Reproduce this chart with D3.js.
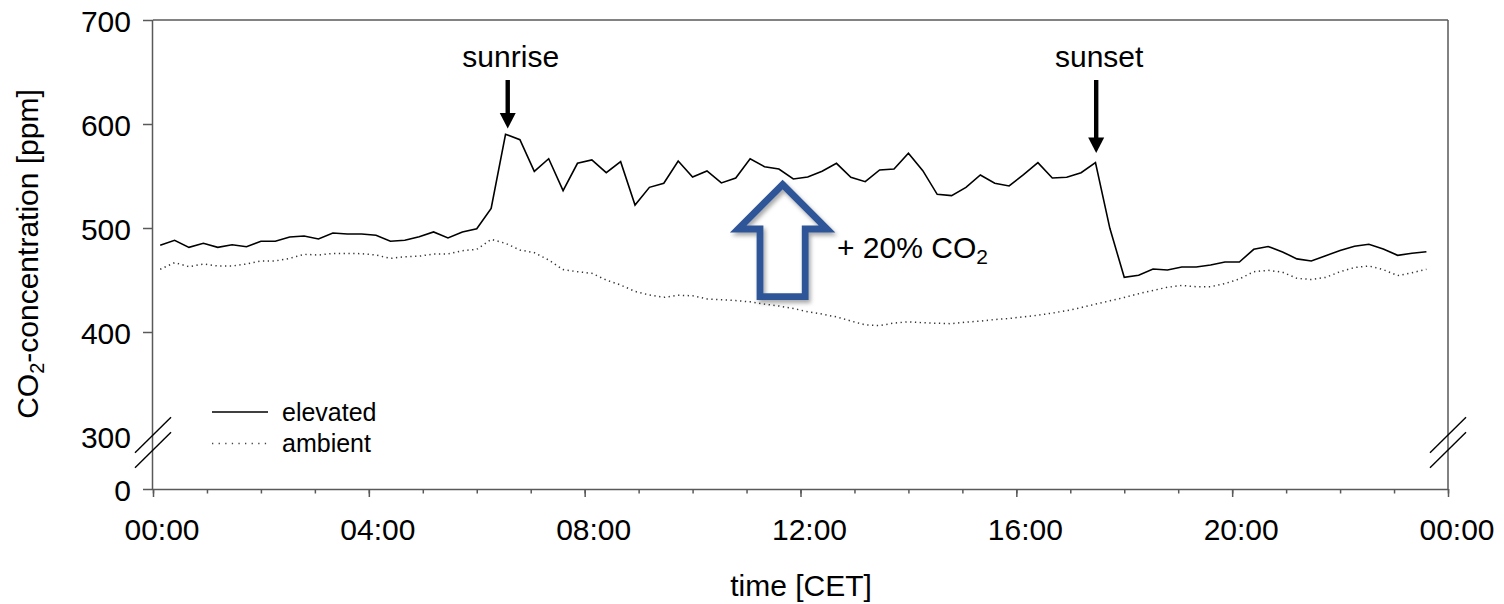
<!DOCTYPE html>
<html><head><meta charset="utf-8">
<script src="https://cdn.jsdelivr.net/npm/d3@7"></script>
<style>
html,body{margin:0;padding:0;background:#fff;}
svg{display:block;font-family:"Liberation Sans",Arial,sans-serif;}
</style></head>
<body><svg id="chart" width="1504" height="604"></svg>
<script>
// ---- data ----
const sampleStartMin = 8;     // first sample (minutes after midnight)
const sampleStepMin = 16;     // sampling interval (minutes)
const elevated = [483.4,488.2,481.4,485.3,481.4,483.9,482.0,487.2,487.2,491.3,
492.3,489.4,495.2,494.2,494.2,493.0,487.2,488.2,491.6,496.2,
490.4,496.2,499.3,518.9,590.1,584.9,554.5,566.6,535.9,562.2,
565.4,553.2,563.8,522.1,539.1,543.0,564.4,549.0,554.8,543.3,
548.1,566.6,558.9,556.7,547.1,549.0,554.5,562.2,548.8,544.5,
555.8,556.7,571.8,555.1,532.4,531.1,539.1,551.0,543.0,540.4,
551.3,562.8,548.1,548.8,553.2,562.8,499.7,452.6,454.5,460.6,
459.6,462.5,462.5,464.4,467.3,467.3,479.5,482.2,477.0,470.3,
468.3,473.4,478.4,482.4,484.3,479.8,473.7,475.7,477.2];
const ambient = [460.3,466.7,462.8,465.4,463.5,463.5,465.4,468.3,468.3,470.8,
474.7,474.0,475.6,475.6,475.3,474.0,470.8,472.4,472.9,475.0,
475.0,478.2,479.5,489.1,485.3,478.8,476.3,469.2,460.0,458.0,
456.4,450.0,445.2,439.0,435.6,433.3,435.4,434.8,431.8,431.1,
430.2,429.0,426.8,425.0,422.6,419.5,417.2,414.5,410.6,406.9,
406.2,408.6,409.8,408.9,408.4,408.0,409.5,410.5,412.0,413.0,
414.6,416.1,418.2,420.5,423.5,426.8,430.0,433.2,436.8,440.0,
443.0,444.8,443.5,443.5,446.5,451.0,458.0,459.3,457.5,451.6,
450.5,452.5,458.0,462.0,463.5,460.0,454.2,457.0,460.3];
const seriesNames = ["elevated", "ambient"];
const yTickValues = [0, 300, 400, 500, 600, 700];
const xMajorHours = [0, 4, 8, 12, 16, 20, 24];
const xTickLabels = ["00:00", "04:00", "08:00", "12:00", "16:00", "20:00", "00:00"];
const eventNames = ["sunrise", "sunset"];
const eventHours = [6.574, 17.48];

// ---- layout ----
const svg = d3.select("#chart");
const x = d3.scaleLinear().domain([0, 24]).range([153, 1448]);
const y = d3.scaleLinear().domain([0, 300, 700]).range([489, 436, 20]);
const axisColor = "#595959";
const fontSize = 30;
const hours = elevated.map((_, i) => (sampleStartMin + i * sampleStepMin) / 60);

// drop shadow filter
const defs = svg.append("defs");
const f = defs.append("filter").attr("id", "shadow").attr("x", "-20%").attr("y", "-20%").attr("width", "150%").attr("height", "150%");
f.append("feDropShadow").attr("dx", 2).attr("dy", 3).attr("stdDeviation", 2.2)
  .attr("flood-color", "#000").attr("flood-opacity", 0.35);

// frame (top & right)
svg.append("line").attr("x1", x(0)).attr("x2", x(24)).attr("y1", y(700)).attr("y2", y(700))
  .attr("stroke", axisColor).attr("stroke-width", 1.5);
svg.append("line").attr("x1", x(24)).attr("x2", x(24)).attr("y1", y(700)).attr("y2", y(0))
  .attr("stroke", axisColor).attr("stroke-width", 1.5);

// x axis minor ticks
const xMinor = svg.append("g").attr("transform", `translate(0,${y(0)})`)
  .call(d3.axisBottom(x).tickValues(d3.range(0, 25)).tickSize(4.5).tickSizeOuter(0).tickFormat(""));
xMinor.select(".domain").remove();
xMinor.selectAll("line").attr("stroke", axisColor).attr("stroke-width", 1.5);

// x axis major ticks + labels
const xAx = svg.append("g").attr("transform", `translate(0,${y(0)})`)
  .call(d3.axisBottom(x).tickValues(xMajorHours).tickSize(8).tickSizeOuter(0).tickPadding(22)
    .tickFormat((d, i) => xTickLabels[i]));
xAx.select(".domain").attr("stroke", axisColor).attr("stroke-width", 1.5)
  .attr("d", `M${x(0) - 10},0.5H${x(24)}`);
xAx.selectAll("line").attr("stroke", axisColor).attr("stroke-width", 1.5);
xAx.selectAll("text").attr("font-size", fontSize).attr("fill", "#000")
  .attr("font-family", "Liberation Sans, Arial, sans-serif").attr("dx", 8.5);

// y axis
const yAx = svg.append("g").attr("transform", `translate(${x(0)},0)`)
  .call(d3.axisLeft(y).tickValues(yTickValues).tickSize(10).tickSizeOuter(0).tickPadding(12));
yAx.select(".domain").attr("stroke", axisColor).attr("stroke-width", 1.5)
  .attr("d", `M-0.5,${y(700)}V${y(0)}`);
yAx.selectAll("line").attr("stroke", axisColor).attr("stroke-width", 1.5);
yAx.selectAll(".tick").filter(d => d === 300 || d === 0).select("line").remove();
yAx.selectAll("text").attr("font-size", fontSize).attr("fill", "#000")
  .attr("font-family", "Liberation Sans, Arial, sans-serif").attr("dy", "0.37em");

// axis break marks
[x(0), x(24)].forEach(cx => {
  [y(300) - 1, y(300) + 14].forEach(cy => {
    svg.append("line").attr("x1", cx - 18).attr("y1", cy + 17.7).attr("x2", cx + 18).attr("y2", cy - 17.7)
      .attr("stroke", "#000").attr("stroke-width", 1.4);
  });
});

// data lines
const line = d3.line().x((d, i) => x(hours[i])).y(d => y(d));
svg.append("path").datum(ambient).attr("d", line).attr("fill", "none")
  .attr("stroke", "#333").attr("stroke-width", 1.5).attr("stroke-dasharray", "1.3 3.5");
svg.append("path").datum(elevated).attr("d", line).attr("fill", "none")
  .attr("stroke", "#000").attr("stroke-width", 1.6).attr("stroke-linejoin", "miter");

// legend
const legend = svg.append("g");
seriesNames.forEach((name, i) => {
  const ly = 412 + i * 31.5;
  legend.append("line").attr("x1", 212).attr("x2", 268).attr("y1", ly).attr("y2", ly)
    .attr("stroke", i === 0 ? "#000" : "#444").attr("stroke-width", i === 0 ? 1.6 : 1.4)
    .attr("stroke-dasharray", i === 0 ? null : "1.3 5.3");
  legend.append("text").attr("x", 282).attr("y", ly + 8.7).attr("font-size", 25).text(name);
});

// sunrise / sunset annotations
const tipY = [128.5, 153];
eventNames.forEach((name, i) => {
  const ax = x(eventHours[i]);
  svg.append("text").attr("x", ax + 3).attr("y", 67).attr("text-anchor", "middle")
    .attr("font-size", fontSize).text(name);
  svg.append("rect").attr("x", ax - 2.2).attr("y", 80).attr("width", 4.4).attr("height", tipY[i] - 15 - 80 + 1)
    .attr("fill", "#000");
  svg.append("path").attr("d", `M${ax - 8},${tipY[i] - 15.5}L${ax + 8},${tipY[i] - 15.5}L${ax},${tipY[i]}Z`)
    .attr("fill", "#000");
});

// big hollow arrow (+20% CO2)
const cx = 782.6, tY = 184.5, wY = 229, hw = 22.6, ww = 44.5, bY = 296.7;
svg.append("path")
  .attr("d", `M${cx},${tY}L${cx + ww},${wY}L${cx + hw},${wY}L${cx + hw},${bY}L${cx - hw},${bY}L${cx - hw},${wY}L${cx - ww},${wY}Z`)
  .attr("fill", "none").attr("stroke", "#2F5597").attr("stroke-width", 6.8)
  .attr("stroke-linejoin", "miter").attr("stroke-miterlimit", 10).attr("filter", "url(#shadow)");

const plus = svg.append("text").attr("x", 837).attr("y", 258).attr("font-size", fontSize);
plus.append("tspan").text("+ 20% CO");
plus.append("tspan").attr("font-size", 21).attr("dy", 6).text("2");

// axis titles
svg.append("text").attr("x", 801).attr("y", 596).attr("text-anchor", "middle").attr("font-size", fontSize)
  .text("time [CET]");
const yt = svg.append("text").attr("transform", "translate(38,254) rotate(-90)")
  .attr("text-anchor", "middle").attr("font-size", fontSize);
yt.append("tspan").text("CO");
yt.append("tspan").attr("font-size", 20).attr("dy", 6).text("2");
yt.append("tspan").attr("dy", -6).text("-concentration [ppm]");
</script>
</body></html>
